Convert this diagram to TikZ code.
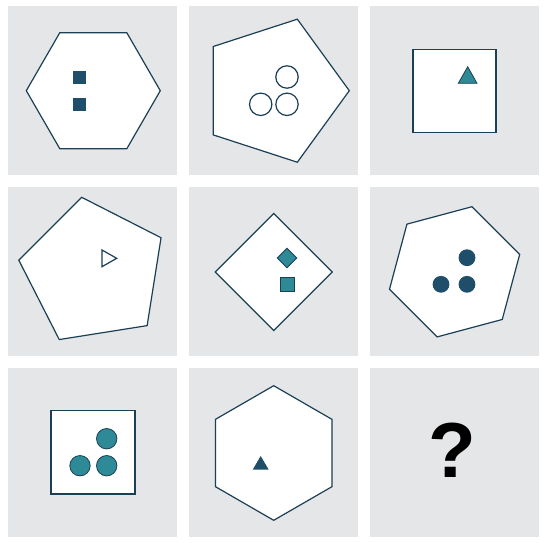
\documentclass[tikz,border=0pt]{standalone}
\usepackage{fontspec}
\setmainfont{Liberation Sans}
\definecolor{panelgray}{HTML}{E5E6E8}
\definecolor{edge}{HTML}{1B3F55}
\definecolor{navy}{HTML}{1F4E6A}
\definecolor{teal}{HTML}{2E8A96}
\tikzset{
  panel/.style={fill=panelgray,draw=none},
  outl/.style={draw=edge,fill=white,line width=1.2pt,line join=miter},
  navyfill/.style={fill=navy,draw=none},
  tealfill/.style={fill=teal,draw=edge,line width=0.8pt},
  hollow/.style={draw=edge,fill=white,line width=1.2pt},
}
\begin{document}
\begin{tikzpicture}[x=1pt,y=-1pt]
\useasboundingbox (0,0) rectangle (550,542);
\fill[white] (0,0) rectangle (550,542);
% panels
\foreach \cx in {8,189,370}{
  \foreach \cy in {6,187,368}{
    \path[panel] (\cx,\cy) rectangle ++(169,169);
  }
}
% Panel 1: hexagon with two squares
\begin{scope}[shift={(93.3,90.7)}]
  \draw[outl] (0:67) -- (-60:67) -- (-120:67) -- (180:67) -- (120:67) -- (60:67) -- cycle;
\end{scope}
\path[navyfill] (72.8,71) rectangle ++(13,13);
\path[navyfill] (72.8,97.5) rectangle ++(13,13);
% Panel 2: pentagon with three hollow circles
\begin{scope}[shift={(274.1,90.7)}]
  \draw[outl] (0:75.2) -- (-72:75.2) -- (-144:75.2) -- (-216:75.2) -- (-288:75.2) -- cycle;
\end{scope}
\draw[hollow] (287,77) circle (11.2);
\draw[hollow] (260.7,104.3) circle (11.2);
\draw[hollow] (287,104.3) circle (11.2);
% Panel 3: square with teal triangle
\draw[outl] (413,49.3) rectangle (496,132.3);
\draw[tealfill] (467.7,66.7) -- (477,83.3) -- (458.3,83.3) -- cycle;
% Panel 4: rotated pentagon with hollow triangle
\begin{scope}[shift={(93.6,272.1)}]
  \draw[outl] (-99:75.7) -- (-171:75.7) -- (-243:75.7) -- (-315:75.7) -- (-387:75.7) -- cycle;
\end{scope}
\draw[hollow] (102,250) -- (116.7,258.3) -- (102,266.7) -- cycle;
% Panel 5: diamond with small diamond and square
\draw[outl] (273.7,213.5) -- (332.2,272) -- (273.7,330.5) -- (215.2,272) -- cycle;
\draw[tealfill] (287,248.3) -- (296.7,258) -- (287,267.7) -- (277.3,258) -- cycle;
\draw[tealfill] (280.3,277.3) rectangle (294.3,291.1);
% Panel 6: rotated hexagon with three navy dots
\begin{scope}[shift={(454.6,271.8)}]
  \draw[outl] (-15:67.4) -- (-75:67.4) -- (-135:67.4) -- (-195:67.4) -- (-255:67.4) -- (-315:67.4) -- cycle;
\end{scope}
\path[navyfill] (467,257.7) circle (8.4);
\path[navyfill] (441,284.3) circle (8.4);
\path[navyfill] (467,284.3) circle (8.4);
% Panel 7: square with three teal dots
\draw[outl] (51,410.3) rectangle (135,494);
\draw[tealfill] (106.7,438.7) circle (10.2);
\draw[tealfill] (80,465.7) circle (10.2);
\draw[tealfill] (106.7,465.7) circle (10.2);
% Panel 8: pointy-top hexagon with navy triangle
\begin{scope}[shift={(273.7,453)}]
  \draw[outl] (-90:67.3) -- (-30:67.3) -- (30:67.3) -- (90:67.3) -- (150:67.3) -- (210:67.3) -- cycle;
\end{scope}
\path[navyfill] (260.7,456) -- (268.7,469.7) -- (252.7,469.7) -- cycle;
% Panel 9: question mark
\node[font=\fontsize{78}{78}\selectfont\bfseries, text=black, inner sep=0pt] (q) at (452.5,450.5) {?};
\end{tikzpicture}
\end{document}
